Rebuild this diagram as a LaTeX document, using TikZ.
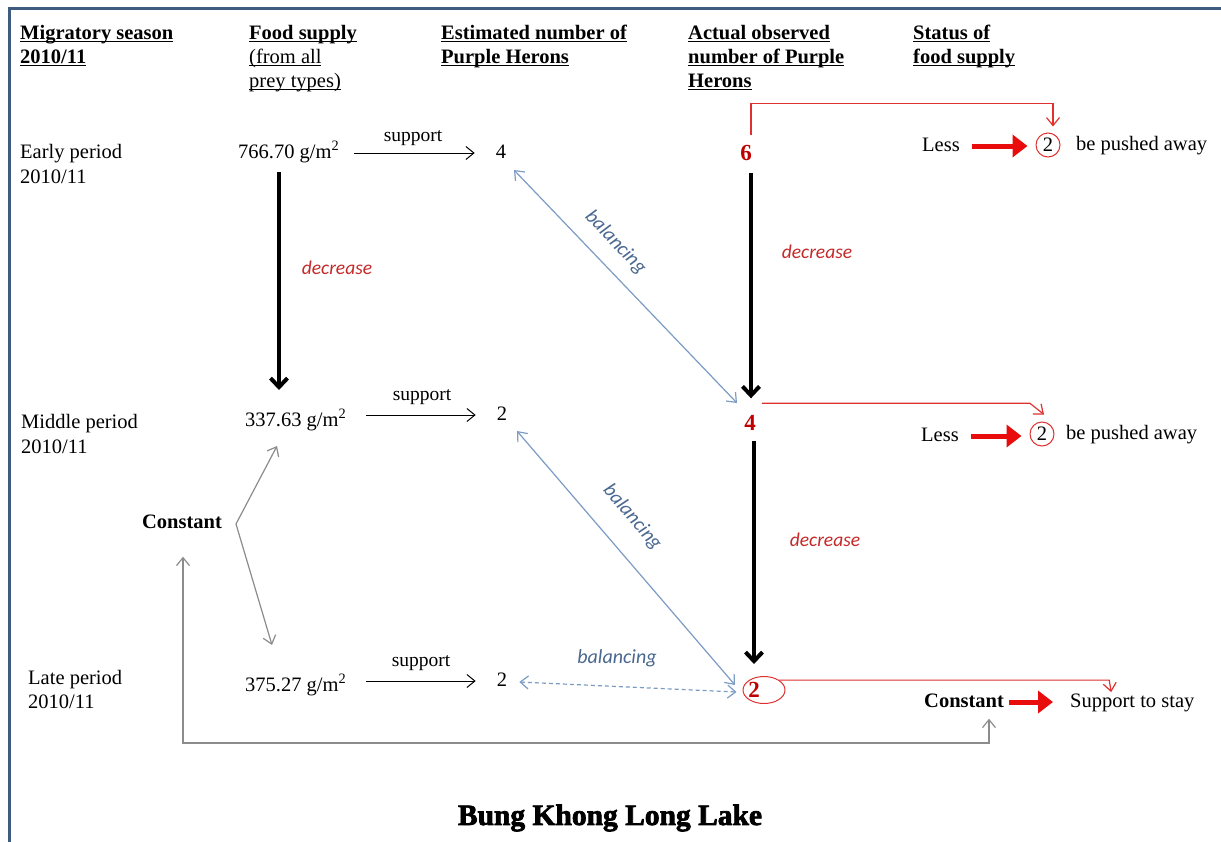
\documentclass[tikz,border=0pt]{standalone}
\usepackage{fontspec}
\setmainfont{Liberation Serif}
\newfontfamily\cali{Carlito}
\newfontfamily\titlefont{Liberation Serif}[BoldFeatures={FakeBold=2.5}]
\usetikzlibrary{arrows.meta,shapes.geometric}
\definecolor{frameblue}{HTML}{3E5D7E}
\definecolor{balblue}{HTML}{7C9CC4}
\definecolor{baltext}{HTML}{4A6890}
\definecolor{darkred}{HTML}{C00000}
\definecolor{decred}{HTML}{C42A2A}
\definecolor{redline}{HTML}{E03030}
\definecolor{brightred}{HTML}{E80C0C}
\definecolor{grayline}{HTML}{8C8C8C}
\newcommand\fs{\fontsize{20.5}{24}\selectfont}
\newcommand\ulx[1]{\setbox0\hbox{#1}\rlap{\rule[-3pt]{\wd0}{1.2pt}}\box0}
\tikzset{
  lbl/.style={font=\fs, text height=14.5pt, text depth=4.5pt, inner sep=0pt, anchor=west},
  hdr/.style={lbl, font=\fs\bfseries},
  num/.style={font=\fs, text height=14.5pt, text depth=4.5pt, inner sep=0pt, anchor=center},
  rednum/.style={num, font=\fontsize{23}{26}\selectfont\bfseries, text=darkred},
  sm/.style={font=\fontsize{19.5}{23}\selectfont, inner sep=0pt, anchor=center},
  dec/.style={font=\cali\itshape\fontsize{19.5}{23}\selectfont, text=decred, inner sep=0pt},
  baltxt/.style={font=\cali\itshape\fontsize{20}{24}\selectfont, text=baltext, inner sep=0pt},
  sup/.style={-{Straight Barb[length=8pt,width=13pt]}, line width=1pt},
  big/.style={-{Straight Barb[length=9pt,width=17pt]}, line width=4pt},
  bal/.style={{Straight Barb[length=8pt,width=13pt]}-{Straight Barb[length=8pt,width=13pt]}, balblue, line width=1.2pt},
  redthin/.style={-{Straight Barb[length=8pt,width=13pt]}, redline, line width=1.2pt},
  redthick/.style={-{Triangle[length=15pt,width=22pt]}, brightred, line width=5pt},
  grayarr/.style={-{Straight Barb[length=8pt,width=13pt]}, grayline, line width=1.2pt},
  redcirc/.style={circle, draw=redline, line width=1pt, minimum size=24pt, inner sep=0pt, font=\fs}
}
\begin{document}
\begin{tikzpicture}[x=1pt,y=-1pt]
\useasboundingbox (0,0) rectangle (1221,841);
\fill[white] (0,0) rectangle (1221,841);
\draw[frameblue, line width=3pt] (9,845) -- (9,8) -- (1225,8);

% headers
\node[hdr] (h1a) at (20,34) {\ulx{Migratory season}};
\node[hdr] (h1b) at (20,58) {\ulx{2010/11}};
\node[hdr] (h2a) at (249,34) {\ulx{Food supply}};
\node[lbl] (h2b) at (249,58) {\ulx{(from all}};
\node[lbl] (h2c) at (249,82) {\ulx{prey types)}};
\node[hdr] (h3a) at (441,34) {\ulx{Estimated number of}};
\node[hdr] (h3b) at (441,58) {\ulx{Purple Herons}};
\node[hdr] (h4a) at (688,34) {\ulx{Actual observed}};
\node[hdr] (h4b) at (688,58) {\ulx{number of Purple}};
\node[hdr] (h4c) at (688,82) {\ulx{Herons}};
\node[hdr] (h5a) at (913,34) {\ulx{Status of}};
\node[hdr] (h5b) at (913,58) {\ulx{food supply}};

% row labels
\node[lbl] (r1a) at (20,153) {Early period};
\node[lbl] (r1b) at (20,178) {2010/11};
\node[lbl] (r2a) at (21,423) {Middle period};
\node[lbl] (r2b) at (21,448) {2010/11};
\node[lbl] (r3a) at (28,679) {Late period};
\node[lbl] (r3b) at (28,703) {2010/11};

% food values
\node[lbl] (f1) at (238,153) {766.70 g/m\textsuperscript{2}};
\node[lbl] (f2) at (245,421) {337.63 g/m\textsuperscript{2}};
\node[lbl] (f3) at (245,686) {375.27 g/m\textsuperscript{2}};

% estimated numbers
\node[num] (e1) at (501,153) {4};
\node[num] (e2) at (502,415) {2};
\node[num] (e3) at (502,681) {2};

% support arrows
\node[sm] (s1) at (413,138) {support};
\node[sm] (s2) at (422,397) {support};
\node[sm] (s3) at (421,663) {support};
\draw[sup] (e1.west -| f1.east) ++(15,0) -- ([xshift=-21pt]e1.west);
\draw[sup] (e2.west -| f2.east) ++(20,0) -- ([xshift=-21pt]e2.west);
\draw[sup] (e3.west -| f3.east) ++(20,0) -- ([xshift=-21pt]e3.west);

% observed numbers
\node[rednum] (a1) at (746,155) {6};
\node[rednum] (a2) at (750,425) {4};
\node[ellipse, draw=redline, line width=1pt, minimum width=42pt, minimum height=27pt, inner sep=0pt] (ell) at (764,690) {};
\node[rednum] (a3) at (754,692) {2};

% decrease arrows
\coordinate (fa) at (279,172);
\coordinate (fb) at (279,390);
\draw[big] (fa) -- (fb);
\draw[big] ([xshift=5pt,yshift=-8pt]a1.south) -- ([xshift=1pt,yshift=17pt]a2.north);
\draw[big] ([xshift=4pt,yshift=-6pt]a2.south) -- ([xshift=-10pt,yshift=12pt]ell.north);
\node[dec] (d1) at (337,268) {decrease};
\node[dec] (d2) at (817,252) {decrease};
\node[dec] (d3) at (825,540) {decrease};

% balancing
\coordinate (b1s) at (514,170);
\coordinate (b1e) at (737,403);
\coordinate (b2s) at (517,431);
\coordinate (b2e) at (735,685);
\draw[bal] (b1s) -- (b1e) node[baltxt, pos=0.38, sloped, above=14pt] (bl1) {balancing};
\draw[bal] (b2s) -- (b2e) node[baltxt, pos=0.42, sloped, above=22pt] (bl2) {balancing};
\draw[bal, dashed, dash pattern=on 4pt off 3pt] ([xshift=12pt,yshift=-1pt]e3.east) -- ([xshift=-6pt,yshift=-2pt]ell.west);
\node[baltxt] (bl3) at (617,658) {balancing};

% constant (left)
\node[hdr, anchor=center] (k1) at (182,523) {Constant};
\coordinate (g0) at (236,524);
\coordinate (g1) at (277,446);
\coordinate (g2) at (272,645);
\draw[grayarr] (g0) -- (g1);
\draw[grayarr] (g0) -- (g2);

% status column
\node[lbl] (l1) at (922,146) {Less};
\node[redcirc] (c1) at (1048,145) {2};
\node[lbl] (p1) at (1076,145) {be pushed away};
\draw[redthick] ([xshift=12pt]l1.east) -- ([xshift=-8pt]c1.west |- l1.east);

\node[lbl] (l2) at (921,436) {Less};
\node[redcirc] (c2) at (1042,434) {2};
\node[lbl] (p2) at (1066,434) {be pushed away};
\draw[redthick] ([xshift=12pt]l2.east) -- ([xshift=-8pt]c2.west |- l2.east);

\node[hdr] (k2) at (924,702) {Constant};
\node[lbl] (st) at (1070,702) {Support to stay};
\draw[redthick] ([xshift=5pt]k2.east) -- ([xshift=-17pt]st.west);

% thin red connectors
\draw[redthin] ([xshift=5pt,yshift=10pt]a1.north) -- ++(0,-32) -| ([xshift=5pt,yshift=6pt]c1.north);
\draw[redthin] ([xshift=6pt,yshift=12pt]a2.north east) -- ++(268,0) -- ([xshift=2pt,yshift=7pt]c2.north);
\draw[redthin] (ell.north east) -- ++(330,0) -- ++(2,12);

% constant loop
\coordinate (g3) at (183,743);
\coordinate (g4) at (989,743);
\draw[grayarr, {Straight Barb[length=8pt,width=13pt]}-{Straight Barb[length=8pt,width=13pt]}] ([yshift=-24pt]k1.south -| g3) -- (g3) -- (g4) -- ([yshift=-7pt]k2.south -| g4);

% title
\node[font=\titlefont\fontsize{29.5}{34}\selectfont\bfseries, inner sep=0pt] (t) at (610,818) {Bung Khong Long Lake};
\end{tikzpicture}
\end{document}
